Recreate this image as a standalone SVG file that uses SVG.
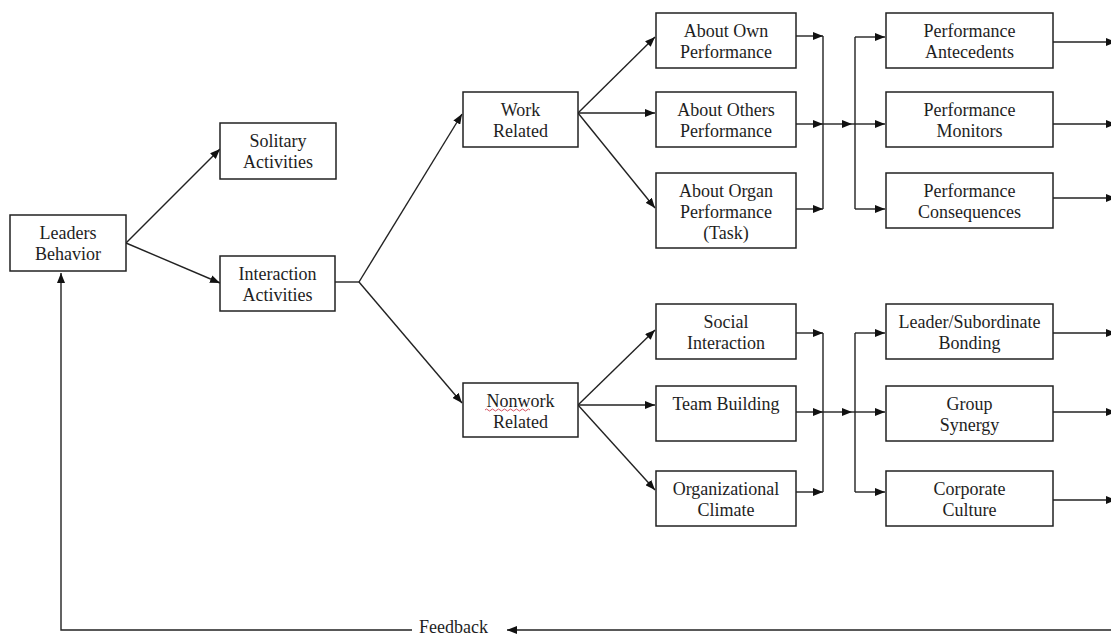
<svg xmlns="http://www.w3.org/2000/svg" width="1111" height="636" viewBox="0 0 1111 636">
  <style>
    .box { fill: #ffffff; stroke: #222222; stroke-width: 1.5; }
    .lbl { font-family: "Liberation Serif", "Times New Roman", serif; font-size: 18px; fill: #1e1e1e; text-anchor: middle; }
    .ln { fill: none; stroke: #222222; stroke-width: 1.4; }
    .arr { marker-end: url(#ah); }
  </style>
  <defs>
    <marker id="ah" viewBox="0 0 10 8" refX="10" refY="4" markerWidth="10" markerHeight="8" markerUnits="userSpaceOnUse" orient="auto">
      <path d="M0,0 L10,4 L0,8 Z" fill="#111111"/>
    </marker>
  </defs>
  <rect x="0" y="0" width="1111" height="636" fill="#ffffff"/>

  <!-- connectors -->
  <g id="connectors">
    <!-- root fan-out -->
    <line class="ln arr" x1="126" y1="243" x2="220" y2="149"/>
    <line class="ln arr" x1="126" y1="243" x2="220" y2="283"/>
    <polyline class="ln" points="335,282 359,282"/>
    <line class="ln arr" x1="359" y1="282" x2="462" y2="114"/>
    <line class="ln arr" x1="359" y1="282" x2="462" y2="403"/>

    <!-- work related fan-out -->
    <line class="ln arr" x1="578" y1="113" x2="655" y2="37"/>
    <line class="ln arr" x1="578" y1="113" x2="655" y2="113"/>
    <line class="ln arr" x1="578" y1="113" x2="655" y2="208"/>

    <!-- work related collector -->
    <line class="ln arr" x1="796" y1="36" x2="823" y2="36"/>
    <line class="ln arr" x1="796" y1="124" x2="823" y2="124"/>
    <line class="ln arr" x1="796" y1="209" x2="823" y2="209"/>
    <line class="ln" x1="823" y1="36" x2="823" y2="209"/>
    <line class="ln arr" x1="823" y1="124" x2="852" y2="124"/>
    <line class="ln" x1="852" y1="124" x2="855" y2="124"/>
    <line class="ln" x1="855" y1="37" x2="855" y2="209"/>
    <line class="ln arr" x1="855" y1="37" x2="885" y2="37"/>
    <line class="ln arr" x1="855" y1="124" x2="885" y2="124"/>
    <line class="ln arr" x1="855" y1="209" x2="885" y2="209"/>
    <line class="ln arr" x1="1053" y1="42" x2="1116" y2="42"/>
    <line class="ln arr" x1="1053" y1="124" x2="1116" y2="124"/>
    <line class="ln arr" x1="1053" y1="198" x2="1116" y2="198"/>

    <!-- nonwork related fan-out -->
    <line class="ln arr" x1="578" y1="405" x2="655" y2="330"/>
    <line class="ln arr" x1="578" y1="405" x2="655" y2="405"/>
    <line class="ln arr" x1="578" y1="405" x2="655" y2="490"/>

    <!-- nonwork related collector -->
    <line class="ln arr" x1="796" y1="333" x2="823" y2="333"/>
    <line class="ln arr" x1="796" y1="412" x2="823" y2="412"/>
    <line class="ln arr" x1="796" y1="492" x2="823" y2="492"/>
    <line class="ln" x1="823" y1="333" x2="823" y2="492"/>
    <line class="ln arr" x1="823" y1="412" x2="852" y2="412"/>
    <line class="ln" x1="852" y1="412" x2="855" y2="412"/>
    <line class="ln" x1="855" y1="333" x2="855" y2="492"/>
    <line class="ln arr" x1="855" y1="333" x2="885" y2="333"/>
    <line class="ln arr" x1="855" y1="412" x2="885" y2="412"/>
    <line class="ln arr" x1="855" y1="492" x2="885" y2="492"/>
    <line class="ln arr" x1="1053" y1="333" x2="1116" y2="333"/>
    <line class="ln arr" x1="1053" y1="412" x2="1116" y2="412"/>
    <line class="ln arr" x1="1053" y1="500" x2="1116" y2="500"/>

    <!-- feedback loop -->
    <line class="ln arr" x1="1111" y1="630" x2="507" y2="630"/>
    <polyline class="ln arr" points="412,630 61,630 61,273"/>
    <text class="lbl" style="text-anchor:start" x="419" y="633">Feedback</text>
  </g>

  <g id="leaders-behavior">
    <rect class="box" x="10" y="215" width="116" height="56"/>
    <text class="lbl" x="68" y="239">Leaders</text>
    <text class="lbl" x="68" y="260">Behavior</text>
  </g>
  <g id="solitary-activities">
    <rect class="box" x="220" y="123" width="116" height="56"/>
    <text class="lbl" x="278" y="147">Solitary</text>
    <text class="lbl" x="278" y="168">Activities</text>
  </g>
  <g id="interaction-activities">
    <rect class="box" x="220" y="256" width="115" height="55"/>
    <text class="lbl" x="277.5" y="280">Interaction</text>
    <text class="lbl" x="277.5" y="301">Activities</text>
  </g>
  <g id="work-related">
    <rect class="box" x="463" y="92" width="115" height="55"/>
    <text class="lbl" x="520.5" y="116">Work</text>
    <text class="lbl" x="520.5" y="137">Related</text>
  </g>
  <g id="nonwork-related">
    <rect class="box" x="463" y="383" width="115" height="54"/>
    <text class="lbl" x="520.5" y="407">Nonwork</text>
    <text class="lbl" x="520.5" y="428">Related</text>
    <path d="M485,410 q1.5,-2 3,0 t3,0 t3,0 t3,0 t3,0 t3,0 t3,0 t3,0 t3,0 t3,0 t3,0 t3,0 t3,0 t3,0 t3,0" fill="none" stroke="#d04050" stroke-width="0.9"/>
  </g>
  <g id="about-own">
    <rect class="box" x="656" y="13" width="140" height="55"/>
    <text class="lbl" x="726" y="37">About Own</text>
    <text class="lbl" x="726" y="58">Performance</text>
  </g>
  <g id="about-others">
    <rect class="box" x="656" y="92" width="140" height="55"/>
    <text class="lbl" x="726" y="116">About Others</text>
    <text class="lbl" x="726" y="137">Performance</text>
  </g>
  <g id="about-organ">
    <rect class="box" x="656" y="173" width="140" height="75"/>
    <text class="lbl" x="726" y="197">About Organ</text>
    <text class="lbl" x="726" y="218">Performance</text>
    <text class="lbl" x="726" y="239">(Task)</text>
  </g>
  <g id="performance-antecedents">
    <rect class="box" x="886" y="13" width="167" height="55"/>
    <text class="lbl" x="969.5" y="37">Performance</text>
    <text class="lbl" x="969.5" y="58">Antecedents</text>
  </g>
  <g id="performance-monitors">
    <rect class="box" x="886" y="92" width="167" height="55"/>
    <text class="lbl" x="969.5" y="116">Performance</text>
    <text class="lbl" x="969.5" y="137">Monitors</text>
  </g>
  <g id="performance-consequences">
    <rect class="box" x="886" y="173" width="167" height="55"/>
    <text class="lbl" x="969.5" y="197">Performance</text>
    <text class="lbl" x="969.5" y="218">Consequences</text>
  </g>
  <g id="social-interaction">
    <rect class="box" x="656" y="304" width="140" height="55"/>
    <text class="lbl" x="726" y="328">Social</text>
    <text class="lbl" x="726" y="349">Interaction</text>
  </g>
  <g id="team-building">
    <rect class="box" x="656" y="386" width="140" height="55"/>
    <text class="lbl" x="726" y="410">Team Building</text>
  </g>
  <g id="organizational-climate">
    <rect class="box" x="656" y="471" width="140" height="55"/>
    <text class="lbl" x="726" y="495">Organizational</text>
    <text class="lbl" x="726" y="516">Climate</text>
  </g>
  <g id="leader-subordinate-bonding">
    <rect class="box" x="886" y="304" width="167" height="55"/>
    <text class="lbl" x="969.5" y="328">Leader/Subordinate</text>
    <text class="lbl" x="969.5" y="349">Bonding</text>
  </g>
  <g id="group-synergy">
    <rect class="box" x="886" y="386" width="167" height="55"/>
    <text class="lbl" x="969.5" y="410">Group</text>
    <text class="lbl" x="969.5" y="431">Synergy</text>
  </g>
  <g id="corporate-culture">
    <rect class="box" x="886" y="471" width="167" height="55"/>
    <text class="lbl" x="969.5" y="495">Corporate</text>
    <text class="lbl" x="969.5" y="516">Culture</text>
  </g>
</svg>
